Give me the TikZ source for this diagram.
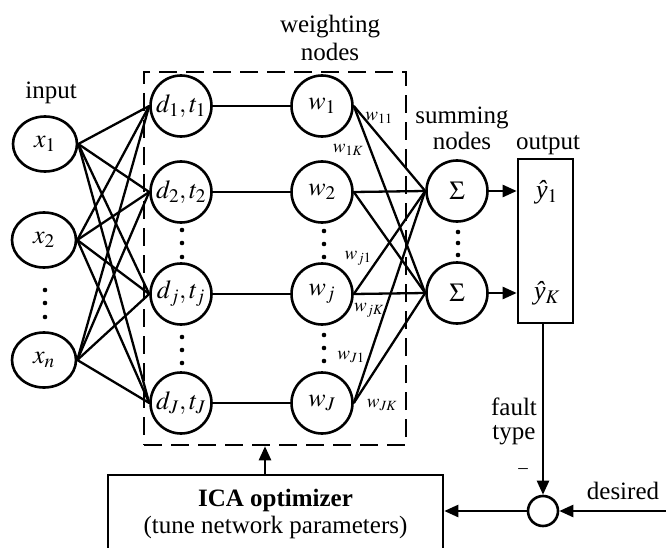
\documentclass[tikz,border=0pt]{standalone}
\usepackage{mathptmx}
\usepackage{fontspec}
\setmainfont{Liberation Serif}
\usetikzlibrary{arrows.meta,shapes.geometric}

\begin{document}
\begin{tikzpicture}[x=1pt,y=-1pt,
  every node/.style={font=\fontsize{25}{27}\selectfont, inner sep=0pt},
  mathtxt/.style={font=\fontsize{26}{28}\selectfont},
  neuron/.style={circle, draw, line width=2.6pt, minimum size=61pt, mathtxt},
  innode/.style={ellipse, draw, line width=2.6pt, minimum width=64pt, minimum height=55pt, mathtxt},
  link/.style={line width=2.3pt},
  arr/.style={line width=2.4pt, -{Triangle[length=14pt,width=12pt]}},
  wlab/.style={font=\fontsize{19}{21}\selectfont},
  lab/.style={anchor=base},
  dot/.style={fill=black}]
\useasboundingbox (0,0) rectangle (666,548);

% network block (dashed)
\node[draw, dash pattern=on 18pt off 9pt, line width=2.5pt,
      minimum width=262pt, minimum height=373pt] (net) at (275,258.5) {};

% input layer
\node[innode, fill=white] (x1) at (45,144) {$x_1$};
\node[innode, fill=white] (x2) at (44,240) {$x_2$};
\node[innode, fill=white] (xn) at (44,360) {$x_n$};

% hidden (d,t) layer
\node[neuron, fill=white] (d1) at (181,106) {$d_1,t_1$};
\node[neuron, fill=white] (d2) at (181,192) {$d_2,t_2$};
\node[neuron, fill=white] (dj) at (181,294) {$d_j,t_j$};
\node[neuron, fill=white] (dJ) at (181,403) {$d_J,t_J$};

% weighting nodes
\node[neuron, fill=white] (w1) at (322,106) {$w_1$};
\node[neuron, fill=white] (w2) at (322,192) {$w_2$};
\node[neuron, fill=white] (wj) at (322,294) {$w_j$};
\node[neuron, fill=white] (wJ) at (322,403) {$w_J$};

% summing nodes
\node[neuron] (s1) at (457,191) {$\Sigma$};
\node[neuron] (s2) at (457,293) {$\Sigma$};

% output block with the two estimates
\node[draw, line width=2.6pt, minimum width=55pt, minimum height=164pt] (out) at (545.5,241) {};
\node[mathtxt] (y1) at (547,192) {\itshape ŷ\upshape$_{1}$};
\node[mathtxt] (yK) at (547,293) {\itshape ŷ\upshape$_{K}$};

% comparison junction and optimizer
\node[circle, draw, line width=2.6pt, minimum size=30pt] (sum) at (543,511) {};
\node[draw, line width=2.6pt, minimum width=335pt, minimum height=78pt, align=center]
  (ica) at (275.5,514) {\textbf{ICA optimizer}\\(tune network parameters)};
\coordinate (desin) at (668,511);
\coordinate (tune) at (265,475);

% connections
\foreach \a in {x1,x2,xn}
  \foreach \b in {d1,d2,dj,dJ}
    \draw[link] (\a.east) -- (\b.west);
\foreach \i in {1,2,j,J}
  \draw[link] (d\i) -- (w\i);
\foreach \i in {1,2,j,J}
  \foreach \k in {1,2}
    \draw[link] (w\i.east) -- (s\k.west);

\draw[arr] (s1) -- (s1 -| out.west);
\draw[arr] (s2) -- (s2 -| out.west);
\draw[arr] (out.south -| sum) -- (sum.north);
\draw[arr] (desin) -- (sum.east);
\draw[arr] (sum.west) -- (sum.west -| ica.east);
\draw[arr] (tune) -- (tune |- net.south);

% weight labels
\node[wlab] (l11) at (379,118) {$w_{11}$};
\node[wlab] (l1K) at (348,150) {$w_{1K}$};
\node[wlab] (lj1) at (358,258) {$w_{j1}$};
\node[wlab] (ljK) at (369,310) {$w_{jK}$};
\node[wlab] (lJ1) at (351,357) {$w_{J1}$};
\node[wlab] (lJK) at (382,405) {$w_{JK}$};

% text labels
\node[lab] (tin) at (51,99) {input};
\node[lab] (tw1) at (330,33) {weighting};
\node[lab] (tw2) at (330,61) {nodes};
\node[lab] (ts1) at (462,124) {summing};
\node[lab] (ts2) at (462,150) {nodes};
\node[lab] (tout) at (548,150) {output};
\node[lab] (tf1) at (514,415) {fault};
\node[lab] (tf2) at (514,439) {type};
\node[lab, wlab] (tmin) at (523,473) {\textendash};
\node[lab] (tdes) at (623,499) {desired};

% vertical ellipses
\foreach \y in {290,303,317} \fill[dot] (45,\y) circle (2.3pt);
\foreach \y in {230,243,257,337,350,363} \fill[dot] (182,\y) circle (2.3pt);
\foreach \y in {231,244,257,335,348,361} \fill[dot] (324,\y) circle (2.3pt);
\foreach \y in {232,243,255} \fill[dot] (458,\y) circle (2.3pt);
\end{tikzpicture}
\end{document}
